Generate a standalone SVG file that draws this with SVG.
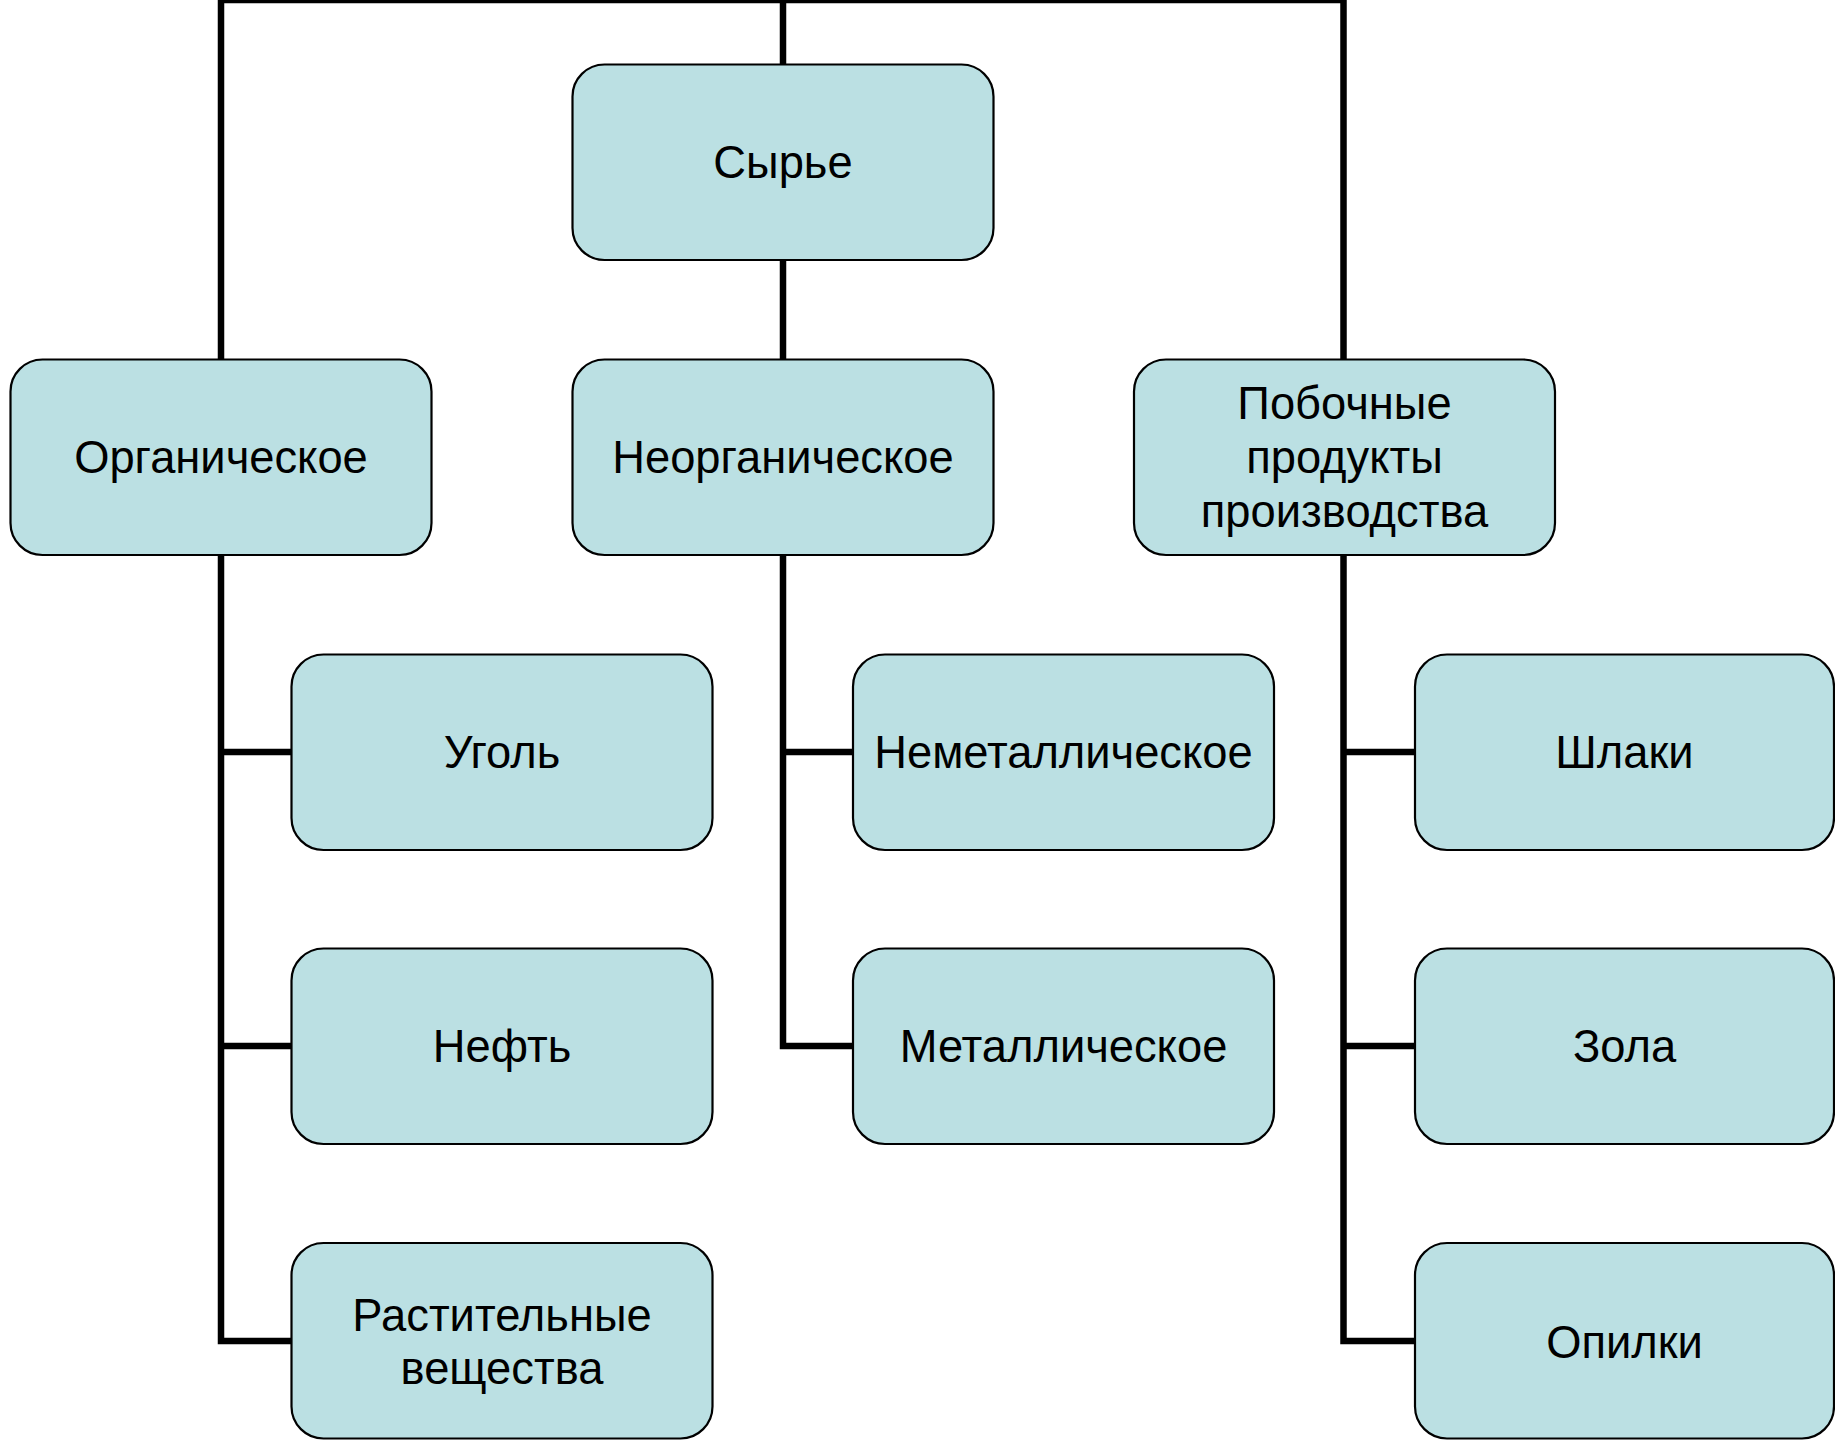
<svg xmlns="http://www.w3.org/2000/svg" width="1835" height="1440" viewBox="0 0 1835 1440">
<style>
.box{fill:#BBE0E3;stroke:#000;stroke-width:2.2}
.lbl{font-family:"Liberation Sans",Arial,sans-serif;font-size:45.3px;fill:#000;text-anchor:middle}
.con{fill:none;stroke:#000;stroke-width:6.5;stroke-linejoin:miter;stroke-linecap:butt}
</style>
<rect width="1835" height="1440" fill="#fff"/>
<g id="connectors">
<path class="con" d="M221,359 V0 H1343.5 V359"/>
<path class="con" d="M783,0 V64"/>
<path class="con" d="M783,260 V359"/>
<path class="con" d="M221,555 V1341 H291.5"/>
<path class="con" d="M221,752 H291.5"/>
<path class="con" d="M221,1046 H291.5"/>
<path class="con" d="M783,555 V1046 H853"/>
<path class="con" d="M783,752 H853"/>
<path class="con" d="M1343.5,555 V1341 H1415"/>
<path class="con" d="M1343.5,752 H1415"/>
<path class="con" d="M1343.5,1046 H1415"/>
</g>
<g id="n-syrye"><rect class="box" x="572.5" y="64.5" width="421" height="195.5" rx="32"/><text class="lbl" x="783" y="177.5">Сырье</text></g>
<g id="n-organic"><rect class="box" x="10.5" y="359.5" width="421" height="195.5" rx="32"/><text class="lbl" x="221" y="473">Органическое</text></g>
<g id="n-inorganic"><rect class="box" x="572.5" y="359.5" width="421" height="195.5" rx="32"/><text class="lbl" x="783" y="473">Неорганическое</text></g>
<g id="n-byproducts"><rect class="box" x="1134" y="359.5" width="421" height="195.5" rx="32"/><text class="lbl" x="1344.5" y="419">Побочные</text><text class="lbl" x="1344.5" y="473">продукты</text><text class="lbl" x="1344.5" y="527">производства</text></g>
<g id="n-coal"><rect class="box" x="291.5" y="654.5" width="421" height="195.5" rx="32"/><text class="lbl" x="502" y="768">Уголь</text></g>
<g id="n-oil"><rect class="box" x="291.5" y="948.5" width="421" height="195.5" rx="32"/><text class="lbl" x="502" y="1062">Нефть</text></g>
<g id="n-plant"><rect class="box" x="291.5" y="1243" width="421" height="195.5" rx="32"/><text class="lbl" x="502" y="1331">Растительные</text><text class="lbl" x="502" y="1384">вещества</text></g>
<g id="n-nonmetal"><rect class="box" x="853" y="654.5" width="421" height="195.5" rx="32"/><text class="lbl" x="1063.5" y="768">Неметаллическое</text></g>
<g id="n-metal"><rect class="box" x="853" y="948.5" width="421" height="195.5" rx="32"/><text class="lbl" x="1063.5" y="1062">Металлическое</text></g>
<g id="n-slag"><rect class="box" x="1415" y="654.5" width="419" height="195.5" rx="32"/><text class="lbl" x="1624.5" y="768">Шлаки</text></g>
<g id="n-ash"><rect class="box" x="1415" y="948.5" width="419" height="195.5" rx="32"/><text class="lbl" x="1624.5" y="1062">Зола</text></g>
<g id="n-sawdust"><rect class="box" x="1415" y="1243" width="419" height="195.5" rx="32"/><text class="lbl" x="1624.5" y="1357.5">Опилки</text></g>
</svg>
